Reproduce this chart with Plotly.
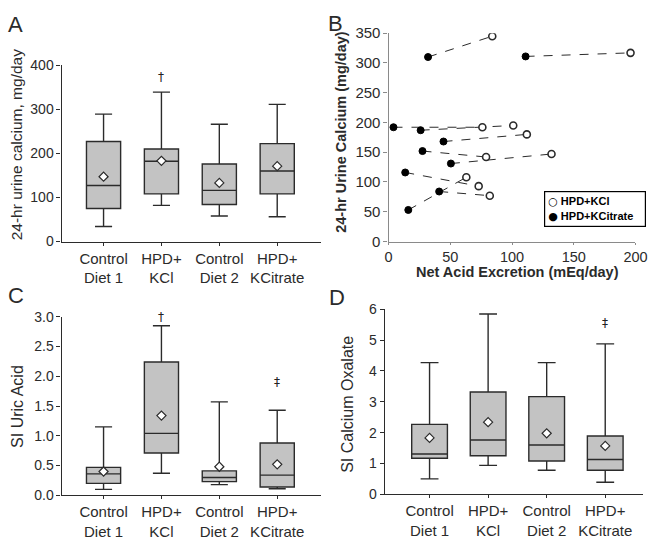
import plotly.graph_objects as go

W, H = 667, 544

categories = ["Control<br>Diet 1", "HPD+<br>KCl", "Control<br>Diet 2", "HPD+<br>KCitrate"]

# Panel A: 24-hr urine calcium (mg/day)
a_lower = [34, 82, 58, 56]
a_q1 = [75, 108, 84, 108]
a_median = [127, 182, 116, 160]
a_q3 = [227, 210, 176, 222]
a_upper = [289, 339, 266, 311]
a_mean = [147, 183, 133, 171]

# Panel B: paired points
nae_kcl = [84, 196, 76, 101, 112, 79, 132, 73, 82, 63]
ca_kcl = [345, 317, 192, 195, 180, 142, 147, 93, 77, 108]
nae_kcitrate = [32, 111, 4, 26, 44.5, 27.5, 50.5, 13.5, 41, 16]
ca_kcitrate = [310, 311, 192, 187, 168, 152, 131, 116, 84, 53]
legend_names = ["HPD+KCl", "HPD+KCitrate"]

# Panel C: SI uric acid
c_lower = [0.10, 0.37, 0.18, 0.11]
c_q1 = [0.20, 0.71, 0.23, 0.14]
c_median = [0.36, 1.04, 0.30, 0.34]
c_q3 = [0.47, 2.24, 0.41, 0.88]
c_upper = [1.15, 2.85, 1.57, 1.43]
c_mean = [0.40, 1.34, 0.48, 0.52]

# Panel D: SI calcium oxalate
d_lower = [0.50, 0.94, 0.78, 0.39]
d_q1 = [1.17, 1.25, 1.08, 0.78]
d_median = [1.31, 1.76, 1.60, 1.13]
d_q3 = [2.27, 3.32, 3.17, 1.89]
d_upper = [4.27, 5.85, 4.27, 4.88]
d_mean = [1.83, 2.34, 1.98, 1.57]

FONT = "Liberation Sans, Arial, sans-serif"
DARK = "#2b2b2b"
BOXFILL = "#c3c3c3"

positions = list(range(len(categories)))

fig = go.Figure()


def add_box_panel(idx, lower, q1, med, q3, upper, mean, width):
    xa = "x" if idx == 1 else f"x{idx}"
    ya = "y" if idx == 1 else f"y{idx}"
    fig.add_trace(go.Box(
        x=positions, q1=q1, median=med, q3=q3,
        lowerfence=lower, upperfence=upper,
        width=width, whiskerwidth=0.5,
        fillcolor=BOXFILL, line=dict(color=DARK, width=1.4),
        boxpoints=False, showlegend=False, hoverinfo="skip",
        xaxis=xa, yaxis=ya,
    ))
    fig.add_trace(go.Scatter(
        x=positions, y=mean, mode="markers",
        marker=dict(symbol="diamond", size=7, color="white",
                    line=dict(color=DARK, width=1.2)),
        showlegend=False, hoverinfo="skip", xaxis=xa, yaxis=ya,
    ))


add_box_panel(1, a_lower, a_q1, a_median, a_q3, a_upper, a_mean, 0.59)
add_box_panel(3, c_lower, c_q1, c_median, c_q3, c_upper, c_mean, 0.59)
add_box_panel(4, d_lower, d_q1, d_median, d_q3, d_upper, d_mean, 0.61)

# Panel B connecting lines
for xk, yk, xc, yc in zip(nae_kcl, ca_kcl, nae_kcitrate, ca_kcitrate):
    fig.add_trace(go.Scatter(
        x=[xc, xk], y=[yc, yk], mode="lines",
        line=dict(color=DARK, width=1, dash="dash"),
        showlegend=False, hoverinfo="skip", xaxis="x2", yaxis="y2",
    ))
fig.add_trace(go.Scatter(
    x=nae_kcl, y=ca_kcl, mode="markers", name=legend_names[0],
    marker=dict(symbol="circle", size=7, color="white", line=dict(color=DARK, width=1.6)),
    xaxis="x2", yaxis="y2", showlegend=False,
))
fig.add_trace(go.Scatter(
    x=nae_kcitrate, y=ca_kcitrate, mode="markers", name=legend_names[1],
    marker=dict(symbol="circle", size=7, color="black", line=dict(color="black", width=1)),
    xaxis="x2", yaxis="y2", showlegend=False,
))


def xd(a, b):
    return [a / W, b / W]


def yd(top, bottom):
    return [1 - bottom / H, 1 - top / H]


tickfont = dict(family=FONT, size=14, color=DARK)
cat_axis = dict(
    tickmode="array", tickvals=positions, ticktext=categories,
    showline=True, linecolor=DARK, linewidth=1.2, ticks="outside", ticklen=3,
    tickcolor=DARK, showgrid=False, zeroline=False, tickfont=dict(family=FONT, size=15, color=DARK),
    fixedrange=True,
)
val_axis = dict(
    showline=True, linecolor=DARK, linewidth=1.2, ticks="outside", ticklen=4,
    tickcolor=DARK, showgrid=False, zeroline=False, tickfont=tickfont,
)

fig.update_layout(
    width=W, height=H,
    margin=dict(l=0, r=0, t=0, b=0),
    paper_bgcolor="white", plot_bgcolor="white",
    font=dict(family=FONT, color=DARK),
    showlegend=False,
    xaxis=dict(cat_axis, domain=xd(59, 325), range=[-0.725, 3.76], anchor="y"),
    yaxis=dict(val_axis, domain=yd(58, 240), range=[0, 400], tickvals=[0, 100, 200, 300, 400], anchor="x"),
    xaxis2=dict(val_axis, domain=xd(394, 647), range=[0, 200], tickvals=[0, 50, 100, 150, 200],
                anchor="y2", linecolor="#8a8a8a", tickcolor="#8a8a8a", ticklen=2,
                tickfont=dict(family=FONT, size=14.5, color=DARK)),
    yaxis2=dict(val_axis, domain=yd(25, 240), range=[0, 350],
                tickvals=[0, 50, 100, 150, 200, 250, 300, 350], anchor="x2",
                linecolor="#8a8a8a", tickcolor="#8a8a8a",
                tickfont=dict(family=FONT, size=15, color=DARK)),
    xaxis3=dict(cat_axis, domain=xd(59, 325), range=[-0.725, 3.76], anchor="y3"),
    yaxis3=dict(val_axis, domain=yd(317.7, 502), range=[0, 3.0],
                tickvals=[0, 0.5, 1.0, 1.5, 2.0, 2.5, 3.0], tickformat=".1f", anchor="x3"),
    xaxis4=dict(cat_axis, domain=xd(390, 655), range=[-0.767, 3.65], anchor="y4"),
    yaxis4=dict(val_axis, domain=yd(310, 501), range=[0, 6],
                tickvals=[0, 1, 2, 3, 4, 5, 6], anchor="x4"),
)

SYM = '<span style="font-family:DejaVu Sans;font-weight:normal">{}</span>'
legend_text = (SYM.format("○") + " " + legend_names[0] + "<br>"
               + SYM.format("●") + " " + legend_names[1])

annotations = [
    # panel letters
    dict(text="A", x=2 / W, y=1 - 1 / H, xanchor="left", yanchor="top", font=dict(size=22)),
    dict(text="B", x=330 / W, y=1 - 0 / H, xanchor="left", yanchor="top", font=dict(size=22)),
    dict(text="C", x=2 / W, y=1 - 281 / H, xanchor="left", yanchor="top", font=dict(size=22)),
    dict(text="D", x=331 / W, y=1 - 283 / H, xanchor="left", yanchor="top", font=dict(size=22)),
    # axis titles
    dict(text="24-hr urine calcium, mg/day", x=13 / W, y=1 - 140 / H, textangle=-90,
         xanchor="center", yanchor="middle", font=dict(size=15.5)),
    dict(text="<b>24-hr Urine Calcium (mg/day)</b>", x=345 / W, y=1 - 127 / H, textangle=-90,
         xanchor="center", yanchor="middle", font=dict(size=14.5)),
    dict(text="<b>Net Acid Excretion (mEq/day)</b>", x=526 / W, y=1 - 271 / H,
         xanchor="center", yanchor="middle", font=dict(size=14.5)),
    dict(text="SI Uric Acid", x=13 / W, y=1 - 410 / H, textangle=-90,
         xanchor="center", yanchor="middle", font=dict(size=16)),
    dict(text="SI Calcium Oxalate", x=352 / W, y=1 - 408 / H, textangle=-90,
         xanchor="center", yanchor="middle", font=dict(size=16)),
]
legend_ann = dict(
    text="<b>" + legend_text + "</b>", x=553 / W, y=1 - 188 / H, xref="paper", yref="paper",
    xanchor="left", yanchor="top", align="left", showarrow=False,
    bordercolor="black", borderwidth=1.2, borderpad=3, bgcolor="white",
    width=94, font=dict(family=FONT, size=11, color="black"),
)
marks = [
    dict(text="†", x=1, y=374, xref="x", yref="y"),
    dict(text="†", x=1, y=3.0, xref="x3", yref="y3"),
    dict(text="‡", x=3, y=1.9, xref="x3", yref="y3"),
    dict(text="‡", x=3, y=5.56, xref="x4", yref="y4"),
]
for a in annotations:
    a.setdefault("xref", "paper")
    a.setdefault("yref", "paper")
    a["showarrow"] = False
    a["font"] = dict(family=FONT, color=DARK, **a["font"])
for m in marks:
    m["showarrow"] = False
    m["font"] = dict(family="DejaVu Sans", size=12, color="#222222")
fig.update_layout(annotations=annotations + [legend_ann] + marks)

fig.write_html("out.html", post_script="document.body.style.margin='0';",
               config={"displayModeBar": False})
